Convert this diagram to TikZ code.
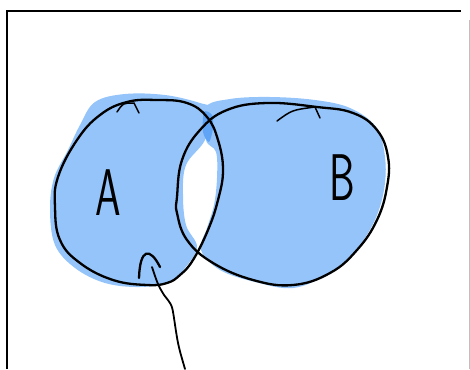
\documentclass[tikz,border=0pt]{standalone}
\usepackage{tikz}
\definecolor{azzurro}{RGB}{148,196,250}
\definecolor{azzurroscuro}{RGB}{96,164,246}
\begin{document}
\begin{tikzpicture}[x=1pt, y=-1pt,
    tratto/.style={line width=2.3pt, line cap=round, line join=round},
    lettera/.style={font=\fontsize{66}{66}\sffamily, xscale=0.62, transform shape, inner sep=0pt}]
    \useasboundingbox (0,0) rectangle (470,369);

    %cornice
    \draw[line width=2pt](7,369)--(7,11)--(461,11);
    \draw[gray!50, line width=1pt](469,20)--(469,369);

    %riempimenti
    \fill[azzurro] plot[smooth cycle, tension=0.6] coordinates {
        (95,102) (125,94) (165,95) (200,103) (212,110) (205,140)
        (186,165) (183,195) (186,225) (197,247) (185,268) (170,282)
        (140,287) (105,283) (75,268) (55,245) (50,210) (54,178) (68,150) (80,125)};
    \fill[azzurro] plot[smooth cycle, tension=0.6] coordinates {
        (205,108) (230,99) (270,97) (315,100) (350,108) (376,127)
        (385,157) (384,190) (374,222) (355,251) (328,274) (293,288)
        (255,282) (220,270) (201,250) (207,228) (214,205) (217,178) (216,152) (206,140)};
    \fill[azzurroscuro] plot[smooth cycle] coordinates {(204,112) (212,115) (213,128) (209,142) (203,132)};

    %contorni
    \draw[tratto] plot[smooth cycle, tension=0.7] coordinates {
        (157,100) (187,103) (207,117) (218,140) (223,170) (218,200) (208,230)
        (193,260) (180,275) (167,283) (147,285) (113,280) (80,263) (60,240)
        (55,207) (58,177) (77,140) (100,115) (127,102)};
    \draw[tratto] plot[smooth cycle, tension=0.7] coordinates {
        (177,197) (182,160) (200,130) (227,110) (267,103) (317,107) (353,113)
        (377,130) (388,157) (387,187) (377,220) (357,250) (330,273) (293,285)
        (253,280) (213,263) (187,240) (177,213)};

    %segni sul bordo
    \draw[line width=1.5pt, line cap=round](117,112) .. controls (123,103) .. (134,103) -- (139,113);
    \draw[line width=1.5pt, line cap=round](277,121) .. controls (292,110) .. (315,107) -- (320,118);

    %freccia
    \draw[tratto](139,278) .. controls (140,248) and (150,247) .. (160,267);
    \draw[line width=1.8pt, line cap=round](152,267) .. controls (158,285) .. (164,295)
        .. controls (172,305) .. (174,318) .. controls (178,345) .. (185,369);

    %lettere
    \node[lettera] (lblA) at (108,193) {A};
    \node[lettera] (lblB) at (342,178) {B};
\end{tikzpicture}
\end{document}
